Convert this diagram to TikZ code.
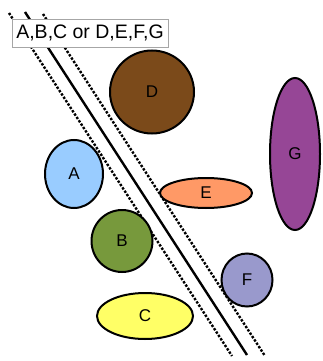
\documentclass[tikz,border=0pt]{standalone}
\usepackage{fontspec}
\setmainfont{Liberation Sans}
\usetikzlibrary{shapes.geometric}
\definecolor{cA}{RGB}{153,204,255}
\definecolor{cB}{RGB}{119,153,60}
\definecolor{cC}{RGB}{255,255,102}
\definecolor{cD}{RGB}{123,74,26}
\definecolor{cE}{RGB}{255,153,102}
\definecolor{cF}{RGB}{153,153,204}
\definecolor{cG}{RGB}{150,70,150}
\tikzset{
  blob/.style={ellipse, draw=black, line width=2pt, inner sep=0pt,
    font=\fontsize{17}{17}\selectfont},
  wall/.style={line width=2.4pt},
  edge/.style={line width=2.4pt, dash pattern=on 2.4pt off 1.6pt},
}
\begin{document}
\begin{tikzpicture}[x=1pt,y=-1pt]
\useasboundingbox (0,0) rectangle (322,361);
% the divider and its two dotted margins
\coordinate (s1) at (25,12);   \coordinate (s2) at (247,355);
\coordinate (l1) at (9,13);    \coordinate (l2) at (232,356);
\coordinate (r1) at (43,14);   \coordinate (r2) at (265,356);
\draw[wall] (s1) -- (s2);
\draw[edge] (l1) -- (l2);
\draw[edge] (r1) -- (r2);
% groups
\node[blob, fill=cD, minimum width=84pt, minimum height=83pt] (D) at (152,92) {D};
\node[blob, fill=cA, minimum width=58pt, minimum height=68pt] (A) at (74,174) {A};
\node[blob, fill=cE, minimum width=92pt, minimum height=30pt] (E) at (206,193) {E};
\node[blob, fill=cG, minimum width=50pt, minimum height=152pt] (G) at (295,154) {G};
\node[blob, fill=cB, minimum width=61pt, minimum height=62pt] (B) at (122,241) {B};
\node[blob, fill=cF, minimum width=51pt, minimum height=53pt] (F) at (247,280) {F};
\node[blob, fill=cC, minimum width=96pt, minimum height=46pt] (C) at (145,316) {C};
% caption box
\node[draw=gray!70, line width=0.9pt, fill=white, minimum width=156pt,
  minimum height=28pt, inner sep=0pt, font=\fontsize{19.5}{19.5}\selectfont]
  (title) at (90,33) {A,B,C or D,E,F,G};
\end{tikzpicture}
\end{document}
